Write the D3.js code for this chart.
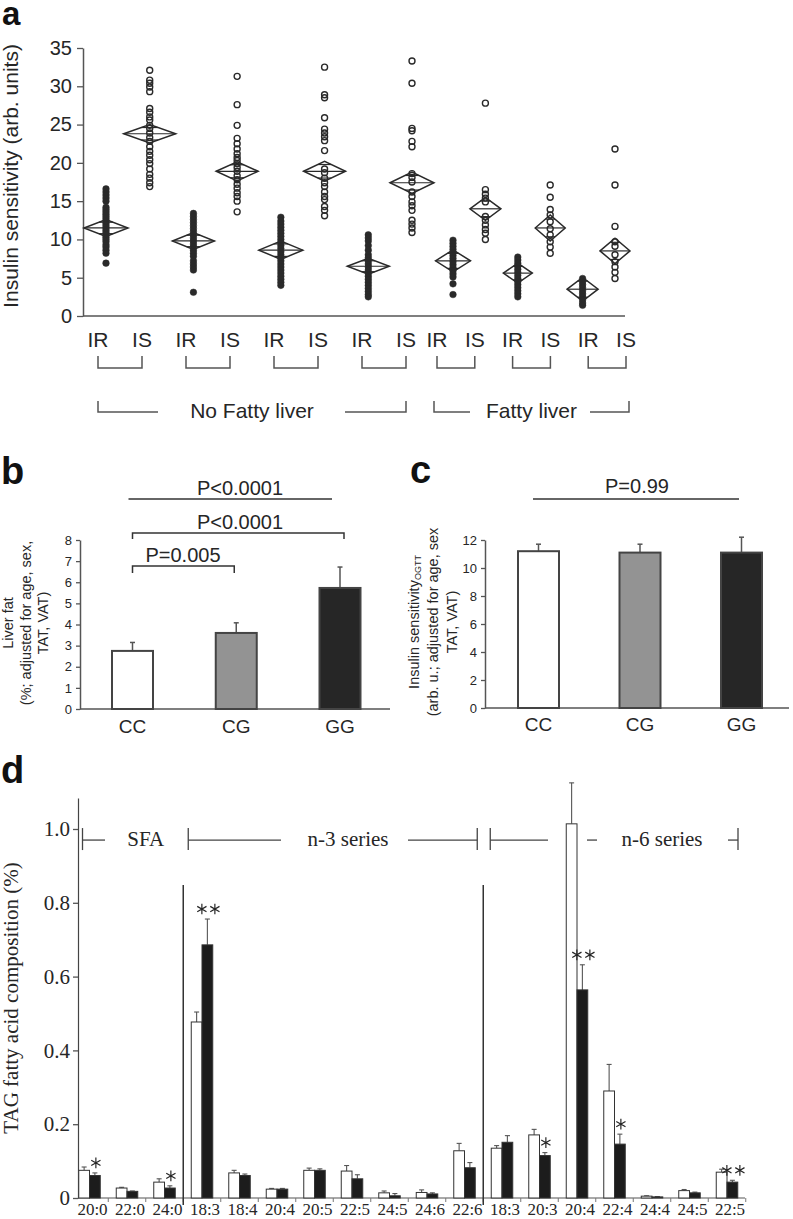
<!DOCTYPE html>
<html><head><meta charset="utf-8">
<script src="https://cdn.jsdelivr.net/npm/d3@7"></script>
<style>body{margin:0;background:#fff} svg{display:block}</style>
</head><body>
<svg id="fig" width="793" height="1219"></svg>
<script>
// ================= DATA =================
// Panel a
const aLabels = ["IR","IS","IR","IS","IR","IS","IR","IS","IR","IS","IR","IS","IR","IS"];
const aMeans = [11.5, 23.8, 9.8, 18.9, 8.6, 18.9, 6.5, 17.4, 7.2, 14.0, 5.6, 11.5, 3.5, 8.5];
const aCI = [1.1, 1.2, 1.1, 1.25, 1.2, 1.3, 1.05, 1.4, 1.45, 1.5, 1.3, 1.7, 1.55, 1.65];
const aN = [44, 52, 42, 42, 44, 42, 42, 44, 35, 31, 29, 30, 31, 30];
const aValues = [
  [6.9,8.2,8.6,9.0,9.3,9.7,10.0,10.3,10.6,10.9,11.2,11.5,11.8,12.1,12.4,12.7,13.0,13.3,13.6,13.9,14.2,15.0,15.4,15.8,16.2,16.6],
  [32.1,30.8,30.4,29.9,29.3,27.1,26.6,26.0,25.6,24.9,24.5,23.9,23.3,22.8,22.1,21.5,21.0,20.4,19.9,19.2,18.5,18.0,17.4,16.9],
  [13.4,13.0,12.6,12.2,11.8,11.4,11.0,10.6,10.2,9.8,9.4,9.0,8.6,8.2,7.8,7.2,6.8,6.4,6.0,3.1],
  [31.3,27.6,24.9,23.2,22.5,21.8,21.2,20.7,20.3,19.9,19.4,18.9,18.3,17.8,17.2,16.7,16.1,15.6,15.0,13.6],
  [12.9,12.4,12.0,11.6,11.2,10.8,10.4,10.0,9.6,9.2,8.8,8.4,8.0,7.6,7.2,6.8,6.4,6.0,5.6,5.2,4.8,4.4,4.0],
  [32.5,28.9,28.5,25.9,24.4,23.9,23.4,22.9,21.6,19.2,18.7,18.0,17.4,16.9,16.2,15.6,15.2,14.3,13.8,13.1],
  [10.6,10.2,9.8,9.2,8.6,8.0,7.6,7.2,6.8,6.4,6.0,5.6,5.2,4.8,4.4,4.0,3.6,3.2,2.8,2.5],
  [33.3,30.4,24.5,24.2,22.8,22.1,18.6,18.1,17.5,16.2,15.6,14.9,14.4,13.8,12.5,12.0,11.5,10.9],
  [9.9,9.5,9.1,8.7,8.3,7.9,7.5,7.1,6.7,6.3,5.9,5.5,5.1,4.2,2.8],
  [27.8,16.5,15.9,15.4,14.9,13.0,12.5,11.9,11.3,10.8,10.0],
  [7.7,7.3,6.9,6.5,6.1,5.7,5.3,4.9,4.5,4.1,3.7,3.3,2.9,2.5],
  [17.1,15.5,13.9,13.2,12.3,11.4,10.6,9.7,9.0,8.2],
  [4.9,4.5,4.1,3.7,3.3,2.9,2.5,2.1,1.7,1.4],
  [21.8,17.1,11.7,9.7,9.1,8.0,7.1,6.4,5.7,4.9]
];
const aYTicks = [0,5,10,15,20,25,30,35];
const aGroupNames = ["No Fatty liver","Fatty liver"];
const aYTitle = "Insulin sensitivity (arb. units)";

// Panel b
const bCats = ["CC","CG","GG"];
const bValues = [2.75, 3.6, 5.73];
const bErrTop = [3.15, 4.08, 6.72];
const bYTicks = [0,1,2,3,4,5,6,7,8];
const bPvals = ["P<0.0001","P<0.0001","P=0.005"];

// Panel c
const cCats = ["CC","CG","GG"];
const cValues = [11.2, 11.1, 11.1];
const cErrTop = [11.7, 11.7, 12.2];
const cYTicks = [0,2,4,6,8,10,12];
const cPval = "P=0.99";

// Panel d
const dLabels = ["20:0","22:0","24:0","18:3","18:4","20:4","20:5","22:5","24:5","24:6","22:6","18:3","20:3","20:4","22:4","24:4","24:5","22:5"];
const dWhite    = [0.075,0.027,0.043,0.477,0.068,0.024,0.075,0.073,0.014,0.015,0.128,0.135,0.171,1.014,0.290,0.005,0.020,0.070];
const dWhiteErr = [0.084,0.029,0.052,0.504,0.075,0.026,0.081,0.088,0.019,0.022,0.148,0.142,0.186,1.125,0.362,0.006,0.023,0.078];
const dBlack    = [0.061,0.018,0.027,0.686,0.061,0.024,0.075,0.052,0.006,0.011,0.082,0.151,0.115,0.564,0.146,0.003,0.014,0.043];
const dBlackErr = [0.068,0.019,0.033,0.756,0.065,0.026,0.079,0.063,0.012,0.014,0.096,0.169,0.123,0.632,0.173,0.004,0.016,0.048];
const dSig = [1,0,1,2,0,0,0,0,0,0,0,0,1,2,1,0,0,2];   // number of asterisks
const dYTicks = [0,0.2,0.4,0.6,0.8,1.0];
const dSeriesNames = ["SFA","n-3 series","n-6 series"];
const dYTitle = "TAG fatty acid composition (%)";

// ================= DRAW =================
const SANS = "'Liberation Sans', Arial, Helvetica, sans-serif";
const NARROW = "'Liberation Sans Narrow', 'Liberation Sans', Arial, sans-serif";
const SERIF = "'Liberation Serif', 'Times New Roman', serif";
const INK = "#262626", AX = "#555";
const svg = d3.select("#fig");
svg.append("rect").attr("width",793).attr("height",1219).attr("fill","#fff");

function txt(g, s, x, y, opt={}) {
  return g.append("text").attr("x",x).attr("y",y)
    .attr("font-family",opt.family||SANS).attr("font-size",opt.size||14)
    .attr("font-weight",opt.weight||"normal").attr("fill",opt.fill||INK)
    .attr("text-anchor",opt.anchor||"start").text(s);
}
function line(g,x1,y1,x2,y2,opt={}) {
  return g.append("line").attr("x1",x1).attr("y1",y1).attr("x2",x2).attr("y2",y2)
    .attr("stroke",opt.stroke||AX).attr("stroke-width",opt.w||1.5);
}
function styleAxis(sel, size, family) {
  sel.select(".domain").attr("stroke",AX).attr("stroke-width",1.5);
  sel.selectAll(".tick line").attr("stroke",AX).attr("stroke-width",1.3);
  sel.selectAll(".tick text").attr("font-family",family).attr("font-size",size).attr("fill",INK);
}

// Panel labels
txt(svg,"a",2,25,{size:33,weight:"bold",fill:"#111"});
txt(svg,"b",1,484,{size:38,weight:"bold",fill:"#111"});
txt(svg,"c",410,483,{size:38,weight:"bold",fill:"#111"});
txt(svg,"d",1,783,{size:38,weight:"bold",fill:"#111"});

// ---------- Panel a ----------
{
  const g = svg.append("g");
  const y = d3.scaleLinear().domain([0,35]).range([316,48]);
  const x = d3.scaleLinear().domain([0,7,8,13]).range([106,412,453,615]);
  const lx = d3.scaleLinear().domain([0,7,8,13]).range([98,406,437,626]);
  const w = d3.scaleLinear().domain([0,52]).range([0,26]);
  const axL = g.append("g").attr("transform","translate(83,0)")
    .call(d3.axisLeft(y).tickValues(aYTicks).tickSize(6).tickSizeOuter(0).tickPadding(5));
  styleAxis(axL, 20, SANS);
  line(g,83,316,625,316);
  g.append("text").attr("transform","translate(18,176) rotate(-90)")
    .attr("text-anchor","middle").attr("font-family",SANS).attr("font-size",21).attr("fill",INK).text(aYTitle);

  aValues.forEach((vals,i)=>{
    const filled = aLabels[i]==="IR";
    g.append("g").selectAll("circle").data(vals).join("circle")
      .attr("cx",x(i)).attr("cy",d=>y(d)).attr("r",filled?3.3:3)
      .attr("fill",filled?"#2a2a2a":"none").attr("stroke","#2a2a2a").attr("stroke-width",filled?0.5:1.4);
  });
  aMeans.forEach((m,i)=>{
    const cx=x(i), cy=y(m), hw=w(aN[i]), h=y(0)-y(aCI[i]);
    g.append("path").attr("d",`M${cx-hw},${cy}L${cx},${cy-h}L${cx+hw},${cy}L${cx},${cy+h}Z`)
      .attr("fill","none").attr("stroke","#2a2a2a").attr("stroke-width",1.5);
    line(g,cx-hw,cy,cx+hw,cy,{stroke:"#2a2a2a",w:1.2});
    [-1,1].forEach(s=>line(g,cx-hw*0.32,cy+s*h*0.68,cx+hw*0.32,cy+s*h*0.68,{stroke:"#2a2a2a",w:1.2}));
  });
  aLabels.forEach((l,i)=>txt(g,l,lx(i),347,{size:21,family:NARROW,anchor:"middle"}));
  for (let p=0;p<7;p++){
    const x1=lx(2*p), x2=lx(2*p+1);
    g.append("path").attr("d",`M${x1},356V368H${x2}V356`).attr("fill","none").attr("stroke",AX).attr("stroke-width",1.5);
  }
  const yl=412, yt=401;
  g.append("path").attr("d",`M${lx(0)},${yt}V${yl}H${lx(0)+60}`).attr("fill","none").attr("stroke",AX).attr("stroke-width",1.5);
  g.append("path").attr("d",`M${lx(7)-61},${yl}H${lx(7)}V${yt}`).attr("fill","none").attr("stroke",AX).attr("stroke-width",1.5);
  txt(g,aGroupNames[0],(lx(3)+lx(4))/2,418,{size:21,family:NARROW,anchor:"middle"});
  g.append("path").attr("d",`M${lx(8)-3},${yt}V${yl}H${lx(8)+33}`).attr("fill","none").attr("stroke",AX).attr("stroke-width",1.5);
  g.append("path").attr("d",`M${lx(13)-36},${yl}H${lx(13)+3}V${yt}`).attr("fill","none").attr("stroke",AX).attr("stroke-width",1.5);
  txt(g,aGroupNames[1],(lx(10)+lx(11))/2,418,{size:21,family:NARROW,anchor:"middle"});
}

// ---------- Panel b & c (bar charts) ----------
const fills = ["#ffffff","#939393","#262626"];
function barPanel(cfg){
  const g = svg.append("g");
  const y = d3.scaleLinear().domain(cfg.domain).range([cfg.y0,540]);
  const x = d3.scalePoint().domain(cfg.cats).range(cfg.xr);
  const ax = g.append("g").attr("transform",`translate(${cfg.ax},0)`)
    .call(d3.axisLeft(y).tickValues(cfg.ticks).tickSize(4).tickSizeOuter(0).tickPadding(4));
  styleAxis(ax, 13, SANS);
  line(g,cfg.ax,cfg.y0,cfg.xend,cfg.y0);
  const bw=41;
  g.selectAll("line.err").data(cfg.cats).join("line").attr("class","err")
    .attr("x1",d=>x(d)).attr("x2",d=>x(d)).attr("y1",(d,i)=>y(cfg.vals[i])).attr("y2",(d,i)=>y(cfg.err[i]))
    .attr("stroke",AX).attr("stroke-width",1.5);
  g.selectAll("line.cap").data(cfg.cats).join("line").attr("class","cap")
    .attr("x1",d=>x(d)-2.5).attr("x2",d=>x(d)+2.5).attr("y1",(d,i)=>y(cfg.err[i])).attr("y2",(d,i)=>y(cfg.err[i]))
    .attr("stroke",AX).attr("stroke-width",1.5);
  g.selectAll("rect.bar").data(cfg.cats).join("rect").attr("class","bar")
    .attr("x",d=>x(d)-bw/2).attr("width",bw)
    .attr("y",(d,i)=>y(cfg.vals[i])).attr("height",(d,i)=>cfg.y0-y(cfg.vals[i]))
    .attr("fill",(d,i)=>fills[i]).attr("stroke","#444").attr("stroke-width",2);
  cfg.cats.forEach(c=>txt(g,c,x(c),cfg.labY,{size:19,anchor:"middle"}));
  return {g,x,y};
}
{
  const {g,x} = barPanel({domain:[0,8],y0:709,cats:bCats,xr:[132.5,340],ax:80,xend:390,ticks:bYTicks,vals:bValues,err:bErrTop,labY:733});
  txt(g,bPvals[0],240,495,{size:20,anchor:"middle"});
  line(g,x("CC")-4,499,x("GG")-8,499,{stroke:"#333"});
  txt(g,bPvals[1],240,529,{size:20,anchor:"middle"});
  g.append("path").attr("d",`M${x("CC")},539V533H${x("GG")+4}V539`).attr("fill","none").attr("stroke","#333").attr("stroke-width",1.5);
  txt(g,bPvals[2],183,562,{size:20,anchor:"middle"});
  g.append("path").attr("d",`M${x("CC")},573V566H${x("CG")-2}V573`).attr("fill","none").attr("stroke","#333").attr("stroke-width",1.5);
  const t = g.append("text").attr("transform","translate(0,623) rotate(-90)")
    .attr("text-anchor","middle").attr("font-family",SANS).attr("font-size",14.5).attr("fill",INK);
  t.append("tspan").attr("x",0).attr("y",13).text("Liver fat");
  t.append("tspan").attr("x",0).attr("y",31).text("(%; adjusted for age, sex,");
  t.append("tspan").attr("x",0).attr("y",48).text("TAT, VAT)");
}
{
  const {g,x} = barPanel({domain:[0,12],y0:708,cats:cCats,xr:[538.5,741.5],ax:485,xend:789,ticks:cYTicks,vals:cValues,err:cErrTop,labY:731});
  txt(g,cPval,637,493,{size:20,anchor:"middle"});
  line(g,x("CC")-5.5,499,x("GG")-2.5,499,{stroke:"#333"});
  const t = g.append("text").attr("transform","translate(0,622) rotate(-90)")
    .attr("text-anchor","middle").attr("font-family",SANS).attr("font-size",14.5).attr("fill",INK);
  const t1 = t.append("tspan").attr("x",0).attr("y",419);
  t1.append("tspan").text("Insulin sensitivity");
  t1.append("tspan").attr("font-size",9).attr("dy",2).text("OGTT");
  t.append("tspan").attr("x",0).attr("y",438).text("(arb. u.; adjusted for age, sex");
  t.append("tspan").attr("x",0).attr("y",457).text("TAT, VAT)");
}

// ---------- Panel d ----------
{
  const g = svg.append("g");
  const y0 = 1198;
  const y = d3.scaleLinear().domain([0,1.084]).range([y0,798]);
  const x = d3.scalePoint().domain(d3.range(dLabels.length)).range([89.5,727]);
  const bw = 10.75;
  const ax = g.append("g").attr("transform","translate(78,0)")
    .call(d3.axisLeft(y).tickValues(dYTicks).tickSize(5).tickSizeOuter(0).tickPadding(3)
      .tickFormat(d=>d===0?"0":d3.format(".1f")(d)));
  styleAxis(ax, 21, SERIF);
  ax.select(".domain").attr("stroke","#444").attr("stroke-width",1.2);
  line(g,78,y0,745,y0,{stroke:"#555",w:1.2});
  const step = x.step();
  d3.range(dLabels.length).forEach(i=>{
    const tx = x(i)+step/2;
    line(g,tx,y0,tx,y0+4,{stroke:"#777",w:1});
  });
  g.append("text").attr("transform","translate(18,998) rotate(-90)")
    .attr("text-anchor","middle").attr("font-family",SERIF).attr("font-size",21).attr("fill",INK).text(dYTitle);

  const series = [{v:dWhite,e:dWhiteErr,off:-bw,fill:"#fff"},{v:dBlack,e:dBlackErr,off:0,fill:"#1c1c1c"}];
  series.forEach(s=>{
    g.append("g").selectAll("line").data(dLabels).join("line")
      .attr("x1",(d,i)=>x(i)+s.off+bw/2).attr("x2",(d,i)=>x(i)+s.off+bw/2)
      .attr("y1",(d,i)=>y(s.v[i])).attr("y2",(d,i)=>y(s.e[i])).attr("stroke","#555").attr("stroke-width",1.1);
    g.append("g").selectAll("line").data(dLabels).join("line")
      .attr("x1",(d,i)=>x(i)+s.off+bw/2-2.5).attr("x2",(d,i)=>x(i)+s.off+bw/2+2.5)
      .attr("y1",(d,i)=>y(s.e[i])).attr("y2",(d,i)=>y(s.e[i])).attr("stroke","#555").attr("stroke-width",1.1);
    g.append("g").selectAll("rect").data(dLabels).join("rect")
      .attr("x",(d,i)=>x(i)+s.off).attr("width",bw)
      .attr("y",(d,i)=>y(s.v[i])).attr("height",(d,i)=>y0-y(s.v[i]))
      .attr("fill",s.fill).attr("stroke","#333").attr("stroke-width",1);
  });
  // significance asterisks drawn as symbols
  const star = d3.symbol(d3.symbolAsterisk, 80);
  dSig.forEach((n,i)=>{
    for (let k=0;k<n;k++){
      const cx = x(i)+bw/2+1 + (n===2 ? (k===0?-6.5:6.5) : 0);
      const cy = y(dBlackErr[i]) - 10;
      g.append("path").attr("d",star()).attr("transform",`translate(${cx},${cy})`)
        .attr("fill","none").attr("stroke","#262626").attr("stroke-width",1.2);
    }
  });
  dLabels.forEach((l,i)=>txt(g,l,x(i)+3,1215,{size:17,family:SERIF,anchor:"middle"}));
  const sep1 = (x(2)+x(3))/2, sep2 = (x(10)+x(11))/2;
  [sep1,sep2].forEach(s=>line(g,s,y(0.848),s,y0+7,{stroke:"#333",w:1.5}));
  const hy = y(0.97), t0 = hy-12, t1 = hy+10;
  const hs = {stroke:"#444",w:1.3};
  line(g,x(0)-7,t0,x(0)-7,t1,hs); line(g,x(0)-7,hy,x(0)+15.5,hy,hs);
  txt(g,dSeriesNames[0],(x(1)+x(2))/2,hy+6,{size:21,family:SERIF,anchor:"middle"});
  line(g,sep1+5,t0,sep1+5,t1,hs); line(g,sep1+5,hy,x(5)+4,hy,hs);
  txt(g,dSeriesNames[1],x(7)-4,hy+6,{size:21,family:SERIF,anchor:"middle"});
  line(g,x(9)-19,hy,sep2-6,hy,hs); line(g,sep2-6,t0,sep2-6,t1,hs);
  line(g,sep2+7,t0,sep2+7,t1,hs); line(g,sep2+7,hy,x(12)+8.5,hy,hs);
  line(g,x(13)+10,hy,x(13)+20,hy,hs);
  txt(g,dSeriesNames[2],x(15)+10,hy+6,{size:21,family:SERIF,anchor:"middle"});
  line(g,x(17)+1,hy,x(17)+11,hy,hs); line(g,x(17)+11,t0,x(17)+11,t1,hs);
}
</script>
</body></html>
